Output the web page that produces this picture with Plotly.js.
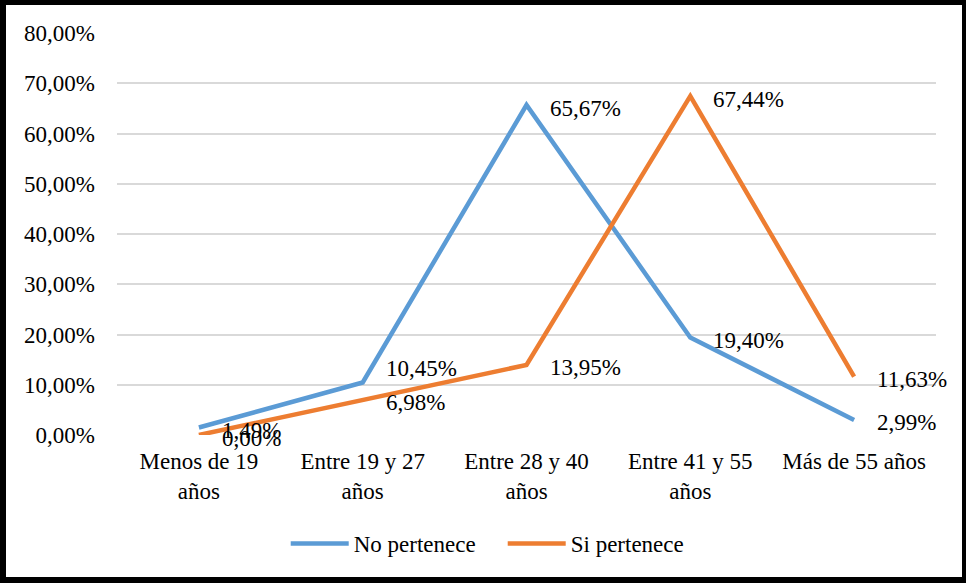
<!DOCTYPE html>
<html>
<head>
<meta charset="utf-8">
<script src="https://cdn.plot.ly/plotly-3.0.1.min.js"></script>
<style>
html,body{margin:0;padding:0;background:#fff;}
#wrap{position:relative;width:966px;height:583px;}
#chart{width:966px;height:583px;}
#chart text{font-family:'Liberation Serif','Times New Roman',serif !important;}
#frame{position:absolute;left:0;top:0;width:966px;height:583px;box-sizing:border-box;border-style:solid;border-color:#000;border-width:5px 4px 6px 6px;pointer-events:none;}
</style>
</head>
<body>
<div id="wrap"><div id="chart"></div><div id="frame"></div></div>
<script>
var categories = ["Menos de 19<br>años", "Entre 19 y 27<br>años", "Entre 28 y 40<br>años", "Entre 41 y 55<br>años", "Más de 55 años"];
var noPertenece = [1.49, 10.45, 65.67, 19.40, 2.99];
var siPertenece = [0.00, 6.98, 13.95, 67.44, 11.63];
var yTicks = [0, 10, 20, 30, 40, 50, 60, 70, 80];

function fmt(v){ return v.toFixed(2).replace('.', ',') + '%'; }

var FONT = 'Liberation Serif';
var blue = '#5B9BD5', orange = '#ED7D31';

var traces = [
  {x: categories, y: noPertenece, type: 'scatter', mode: 'lines', name: 'No pertenece',
   line: {color: blue, width: 4.5}, hoverinfo: 'skip'},
  {x: categories, y: siPertenece, type: 'scatter', mode: 'lines', name: 'Si pertenece',
   line: {color: orange, width: 4.5}, hoverinfo: 'skip'}
];

var annotations = [];
function addLabels(vals, shiftsY){
  vals.forEach(function(v, i){
    annotations.push({x: categories[i], y: v, xref: 'x', yref: 'y', text: fmt(v),
      showarrow: false, xanchor: 'left', yanchor: 'middle', xshift: 21, yshift: shiftsY[i],
      font: {family: FONT, size: 23, color: '#000'}});
  });
}
addLabels(noPertenece, [-3, 14, -3, -3, -3]);
addLabels(siPertenece, [-3, -3, -3, -3, -3]);

var layout = {
  width: 966, height: 583,
  margin: {l: 117, r: 30, t: 33, b: 148},
  paper_bgcolor: '#fff', plot_bgcolor: '#fff',
  font: {family: FONT, size: 23, color: '#000'},
  showlegend: true,
  legend: {orientation: 'h', x: 0.206, xanchor: 'left', y: -0.27, yanchor: 'middle',
           font: {family: FONT, size: 23, color: '#000'}, itemwidth: 58, entrywidth: 144,
           traceorder: 'normal'},
  xaxis: {type: 'category', range: [-0.5, 4.5], showgrid: false, zeroline: false, showline: false, ticks: '',
          ticklabelstandoff: 10,
          tickfont: {family: FONT, size: 23, color: '#000'}, fixedrange: true},
  yaxis: {range: [0, 80], tickvals: yTicks, ticktext: yTicks.map(fmt), showgrid: true,
          gridcolor: '#d9d9d9', gridwidth: 1.5, zeroline: false, showline: false, ticks: '',
          ticklabelstandoff: 21, tickfont: {family: FONT, size: 23, color: '#000'}, fixedrange: true},
  annotations: annotations
};

Plotly.newPlot('chart', traces, layout, {displayModeBar: false});
</script>
</body>
</html>
